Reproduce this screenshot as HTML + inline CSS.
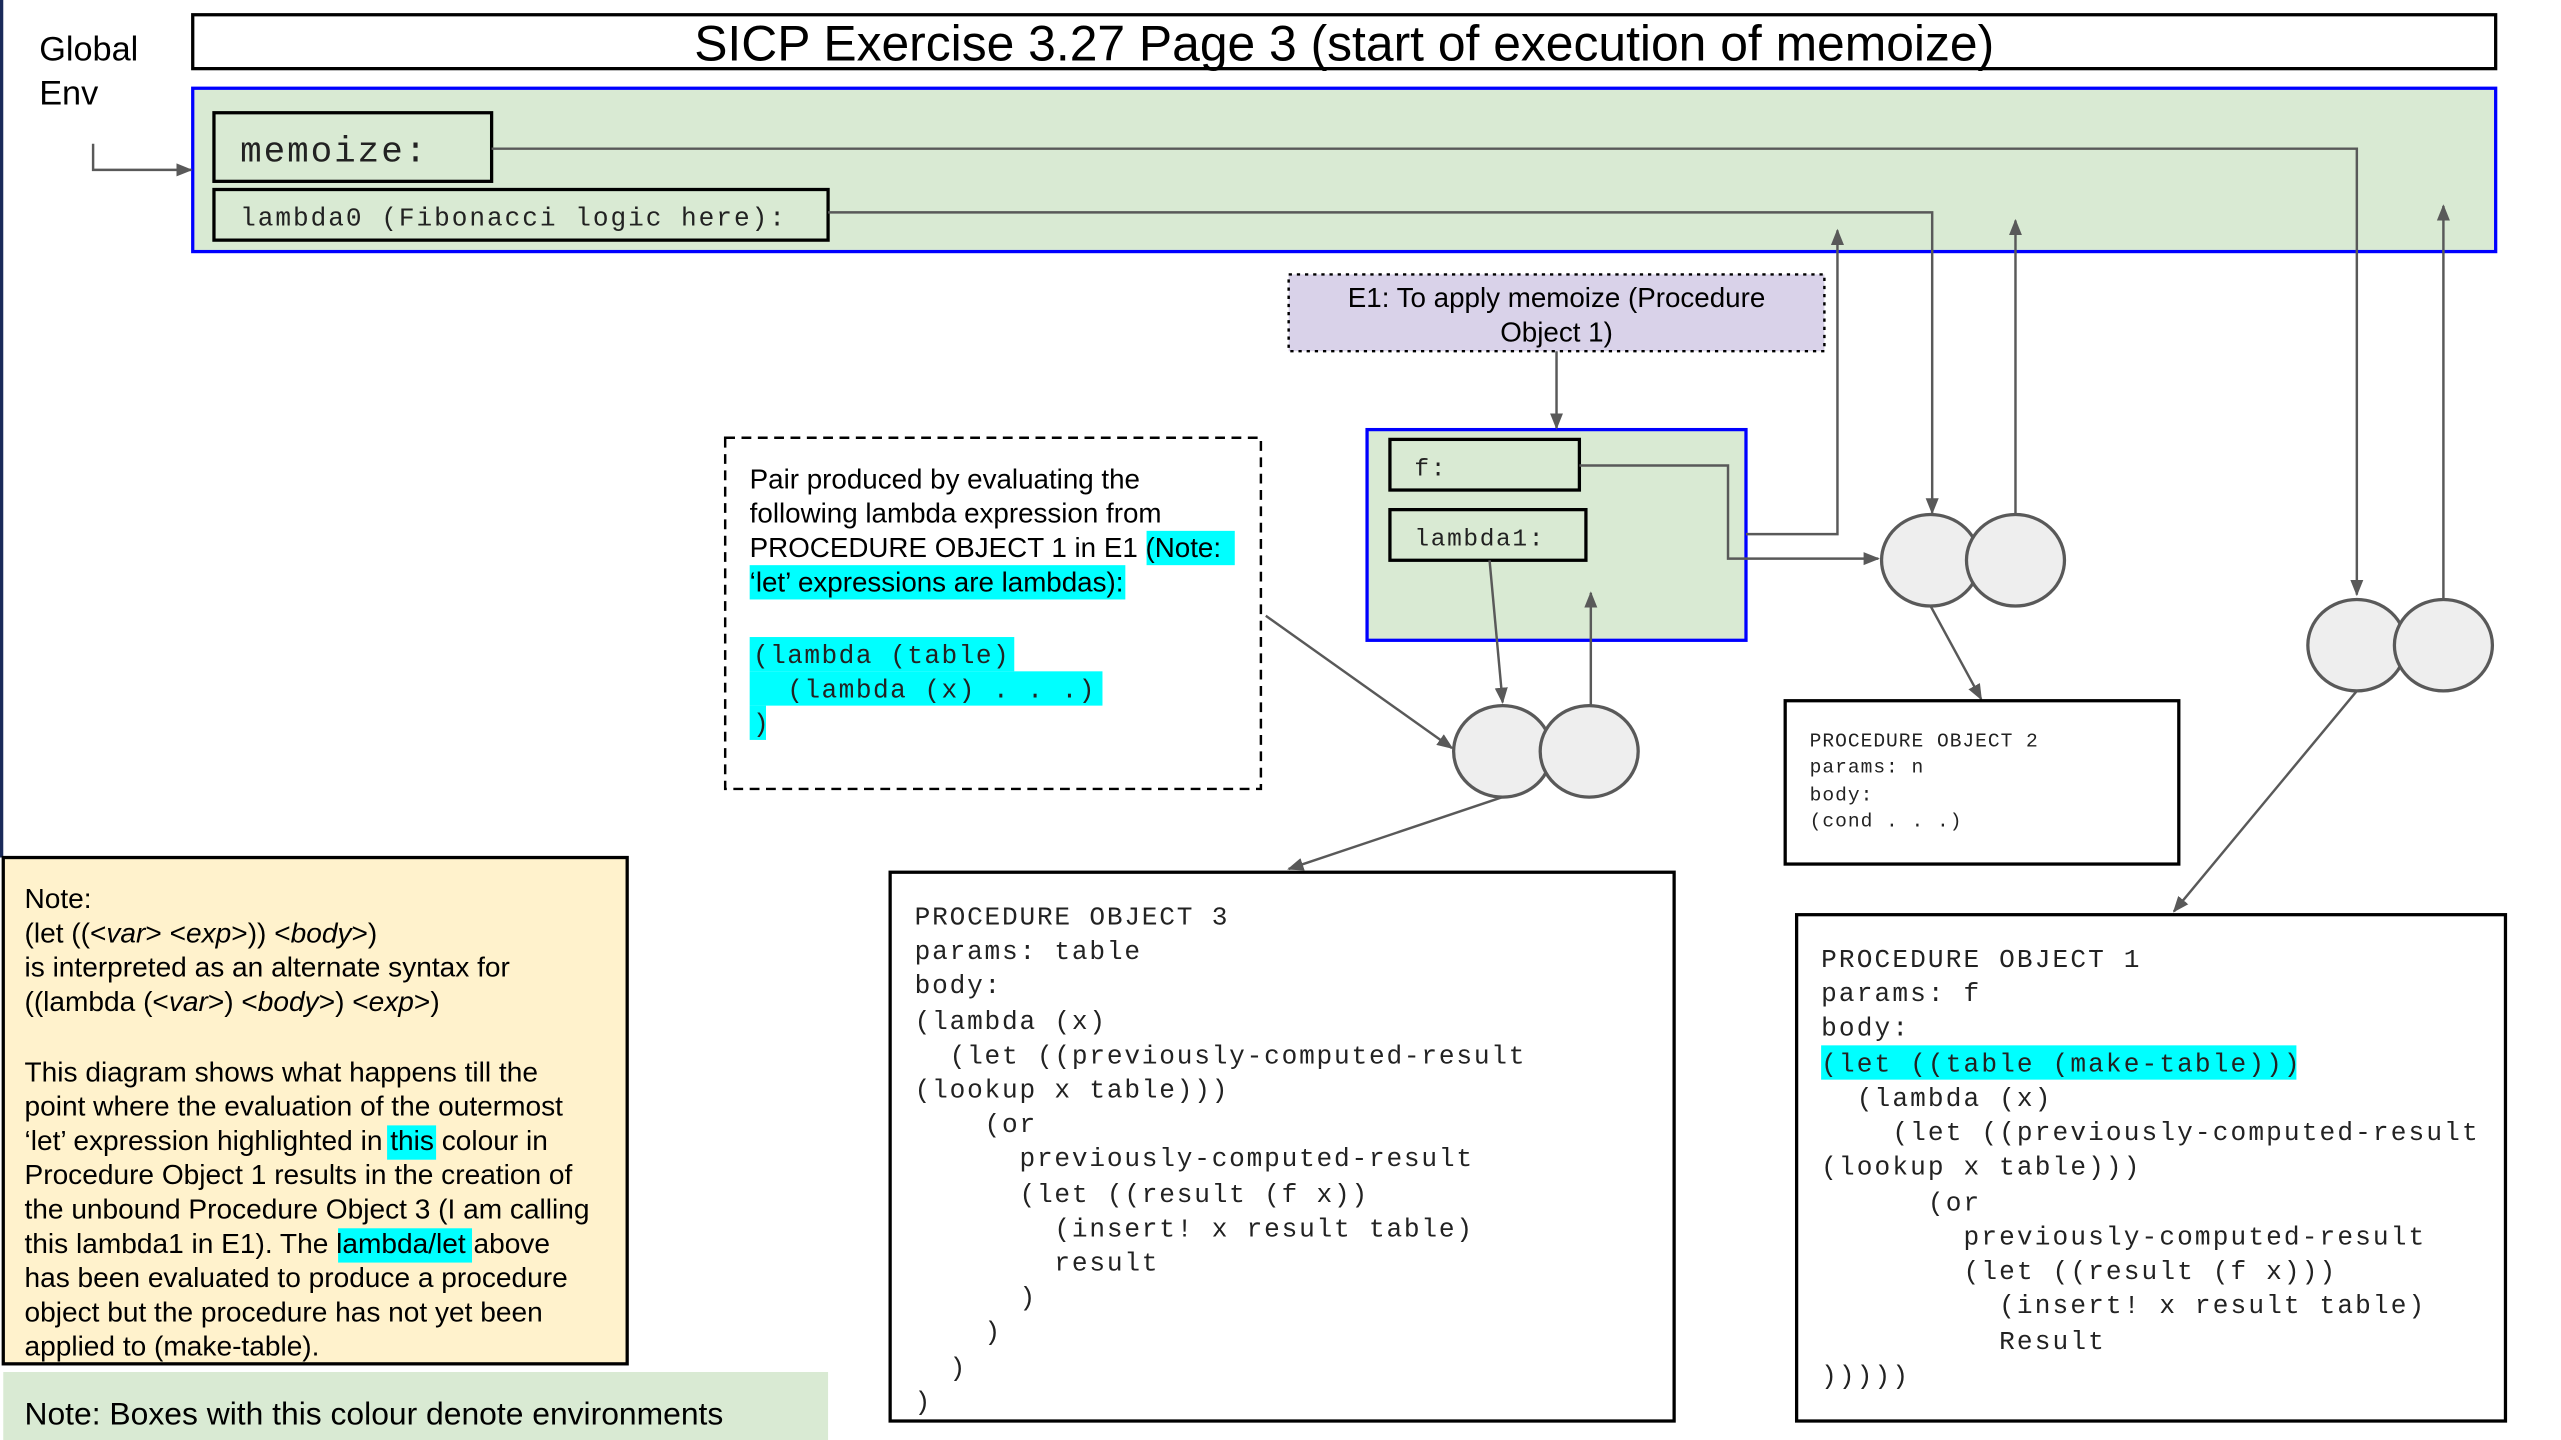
<!DOCTYPE html>
<html><head><meta charset="utf-8"><style>
html,body{margin:0;padding:0;background:#fff;}
svg{display:block;}
text{white-space:pre;}
.s{font-family:"Liberation Sans",Arial,sans-serif;fill:#000;}
.m{font-family:"Liberation Mono","Courier New",monospace;fill:#222;}
</style></head><body>
<svg width="2561" height="1440" viewBox="0 0 1568 881.6" xmlns="http://www.w3.org/2000/svg" xml:space="preserve">
<defs>
<marker id="a" markerWidth="10" markerHeight="10" refX="9" refY="5" orient="auto" markerUnits="userSpaceOnUse">
<path d="M0,1 L10,5 L0,9 z" fill="#595959"/></marker>
</defs>
<line x1="1" y1="0" x2="1" y2="525" stroke="#1a2a5a" stroke-width="2"/>
<text class="s" x="24" y="37" font-size="21">Global</text>
<text class="s" x="24" y="64" font-size="21">Env</text>
<rect x="118" y="9" width="1410" height="33" fill="#fff" stroke="#000" stroke-width="2"/>
<text class="s" x="823" y="37" font-size="30.5" text-anchor="middle">SICP Exercise 3.27 Page 3 (start of execution of memoize)</text>
<rect x="118" y="54" width="1410" height="100" fill="#d9ead3" stroke="#0000ff" stroke-width="2"/>
<rect x="131" y="69" width="170" height="42" fill="#d9ead3" stroke="#000" stroke-width="2"/>
<text class="m" x="147" y="99" font-size="22" letter-spacing="1.2">memoize:</text>
<rect x="131" y="116" width="376" height="31" fill="#d9ead3" stroke="#000" stroke-width="2"/>
<text class="m" x="147" y="138" font-size="16" letter-spacing="1.2">lambda0 (Fibonacci logic here):</text>
<rect x="789" y="168" width="328" height="47" fill="#d9d2e9" stroke="#000" stroke-width="1.5" stroke-dasharray="2,3"/>
<text class="s" x="953" y="188" font-size="17" text-anchor="middle">E1: To apply memoize (Procedure</text>
<text class="s" x="953" y="209" font-size="17" text-anchor="middle">Object 1)</text>
<rect x="837" y="263" width="232" height="129" fill="#d9ead3" stroke="#0000ff" stroke-width="2"/>
<rect x="851" y="269" width="116" height="31" fill="#d9ead3" stroke="#000" stroke-width="2"/>
<text class="m" x="866" y="291" font-size="15" letter-spacing="1">f:</text>
<rect x="851" y="312" width="120" height="31" fill="#d9ead3" stroke="#000" stroke-width="2"/>
<text class="m" x="866" y="334" font-size="15" letter-spacing="1">lambda1:</text>
<g fill="none" stroke="#595959" stroke-width="1.5">
<path d="M57,88 V104 H117" marker-end="url(#a)"/>
<path d="M301,91 H1443 V364" marker-end="url(#a)"/>
<path d="M507,130 H1183 V314" marker-end="url(#a)"/>
<path d="M1069,327 H1125 V141" marker-end="url(#a)"/>
<path d="M1234,315 V135" marker-end="url(#a)"/>
<path d="M1496,368 V126" marker-end="url(#a)"/>
<path d="M953,215 V262" marker-end="url(#a)"/>
<path d="M967,285 H1058 V342 H1150" marker-end="url(#a)"/>
<path d="M912,343 L920,430" marker-end="url(#a)"/>
<path d="M974,432 V363" marker-end="url(#a)"/>
<path d="M775,377 L889,458" marker-end="url(#a)"/>
<path d="M920,488 L789,532" marker-end="url(#a)"/>
<path d="M1182,371 L1213,428" marker-end="url(#a)"/>
<path d="M1443,423 L1331,558" marker-end="url(#a)"/>
</g>
<g fill="#eeeeee" stroke="#595959" stroke-width="2">
<ellipse cx="920" cy="460" rx="30" ry="28"/><ellipse cx="973" cy="460" rx="30" ry="28"/>
<ellipse cx="1182" cy="343" rx="30" ry="28"/><ellipse cx="1234" cy="343" rx="30" ry="28"/>
<ellipse cx="1443" cy="395" rx="30" ry="28"/><ellipse cx="1496" cy="395" rx="30" ry="28"/>
</g>
<rect x="444" y="268" width="328" height="215" fill="#fff" stroke="#000" stroke-width="1.5" stroke-dasharray="6,4"/>
<rect x="2" y="525" width="382" height="310" fill="#fff2cc" stroke="#000" stroke-width="2"/>
<rect x="1100" y="560" width="434" height="310" fill="#fff" stroke="#000" stroke-width="2"/>
<g fill="#00ffff">
<rect x="702" y="325" width="54" height="21"/><rect x="459" y="346" width="230" height="21"/>
<rect x="459" y="390" width="162" height="21"/><rect x="459" y="411" width="216" height="21"/><rect x="459" y="432" width="10" height="21"/>
<rect x="237" y="689" width="30" height="21"/><rect x="207" y="752" width="82" height="21"/>
<rect x="1115" y="640" width="291" height="21"/>
</g>
<text class="s" font-size="17"><tspan x="459" y="299">Pair produced by evaluating the</tspan><tspan x="459" y="320">following lambda expression from</tspan><tspan x="459" y="341">PROCEDURE OBJECT 1 in E1 (Note:</tspan><tspan x="459" y="362">‘let’ expressions are lambdas):</tspan></text>
<text class="m" font-size="16" letter-spacing="0.9"><tspan x="461" y="406">(lambda (table)</tspan><tspan x="461" y="427">  (lambda (x) . . .)</tspan><tspan x="461" y="448">)</tspan></text>
<text class="s" font-size="17.2"><tspan x="15" y="556">Note:</tspan><tspan x="15" y="577">(let ((&lt;<tspan font-style="italic">var</tspan>&gt; &lt;<tspan font-style="italic">exp</tspan>&gt;)) &lt;<tspan font-style="italic">body</tspan>&gt;)</tspan><tspan x="15" y="598">is interpreted as an alternate syntax for</tspan><tspan x="15" y="619">((lambda (&lt;<tspan font-style="italic">var</tspan>&gt;) &lt;<tspan font-style="italic">body</tspan>&gt;) &lt;<tspan font-style="italic">exp</tspan>&gt;)</tspan><tspan x="15" y="662">This diagram shows what happens till the</tspan><tspan x="15" y="683">point where the evaluation of the outermost</tspan><tspan x="15" y="704">‘let’ expression highlighted in this colour in</tspan><tspan x="15" y="725">Procedure Object 1 results in the creation of</tspan><tspan x="15" y="746">the unbound Procedure Object 3 (I am calling</tspan><tspan x="15" y="767">this lambda1 in E1). The lambda/let above</tspan><tspan x="15" y="788">has been evaluated to produce a procedure</tspan><tspan x="15" y="809">object but the procedure has not yet been</tspan><tspan x="15" y="830">applied to (make-table).</tspan></text>
<rect x="2" y="840" width="505" height="42" fill="#d9ead3"/>
<text class="s" x="15" y="872" font-size="19.5">Note: Boxes with this colour denote environments</text>
<rect x="545" y="534" width="480" height="336" fill="#fff" stroke="#000" stroke-width="2"/>
<text class="m" font-size="16" letter-spacing="1.1" fill="#444"><tspan x="560" y="566">PROCEDURE OBJECT 3</tspan><tspan x="560" y="587">params: table</tspan><tspan x="560" y="608">body:</tspan><tspan x="560" y="630">(lambda (x)</tspan><tspan x="560" y="651">  (let ((previously-computed-result</tspan><tspan x="560" y="672">(lookup x table)))</tspan><tspan x="560" y="693">    (or</tspan><tspan x="560" y="714">      previously-computed-result</tspan><tspan x="560" y="736">      (let ((result (f x))</tspan><tspan x="560" y="757">        (insert! x result table)</tspan><tspan x="560" y="778">        result</tspan><tspan x="560" y="799">      )</tspan><tspan x="560" y="820">    )</tspan><tspan x="560" y="842">  )</tspan><tspan x="560" y="863">)</tspan></text>
<rect x="1093" y="429" width="241" height="100" fill="#fff" stroke="#000" stroke-width="2"/>
<text class="m" font-size="12" letter-spacing="0.6" fill="#444"><tspan x="1108" y="457">PROCEDURE OBJECT 2</tspan><tspan x="1108" y="473">params: n</tspan><tspan x="1108" y="490">body:</tspan><tspan x="1108" y="506">(cond . . .)</tspan></text>
<text class="m" font-size="16" letter-spacing="1.3"><tspan x="1115" y="592">PROCEDURE OBJECT 1</tspan><tspan x="1115" y="613">params: f</tspan><tspan x="1115" y="634">body:</tspan><tspan x="1115" y="656">(let ((table (make-table)))</tspan><tspan x="1115" y="677">  (lambda (x)</tspan><tspan x="1115" y="698">    (let ((previously-computed-result</tspan><tspan x="1115" y="719">(lookup x table)))</tspan><tspan x="1115" y="741">      (or</tspan><tspan x="1115" y="762">        previously-computed-result</tspan><tspan x="1115" y="783">        (let ((result (f x)))</tspan><tspan x="1115" y="804">          (insert! x result table)</tspan><tspan x="1115" y="826">          Result</tspan><tspan x="1115" y="847">)))))</tspan></text>
</svg>
</body></html>
